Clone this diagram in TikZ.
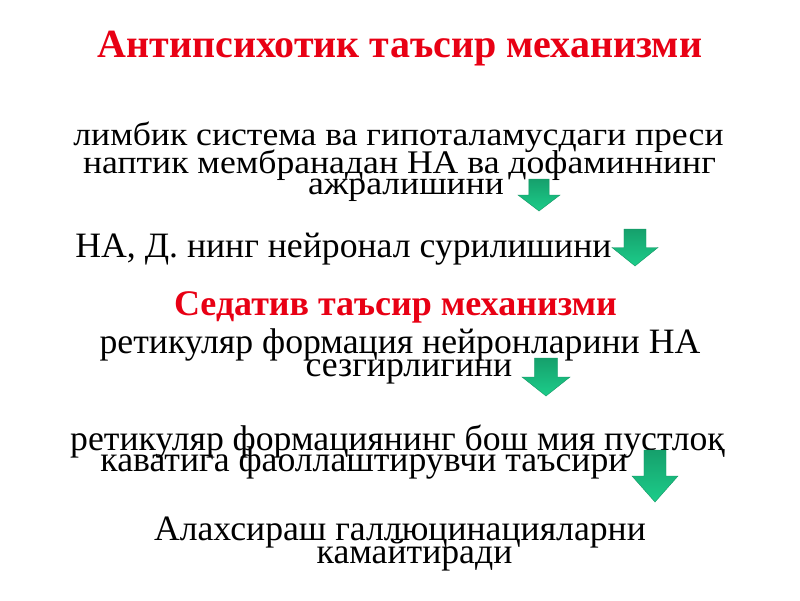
\documentclass[tikz,border=0pt]{standalone}
\usepackage{fontspec}
\setmainfont{Liberation Serif}
\newfontfamily\widefont{Liberation Serif}[FakeStretch=1.08]
\usetikzlibrary{positioning}

\definecolor{titlered}{RGB}{232,0,20}
\definecolor{arrowtop}{RGB}{22,160,108}
\definecolor{arrowbottom}{RGB}{28,205,138}
\definecolor{arrowedge}{RGB}{20,150,100}

\tikzset{
	heading/.style = {titlered, font = \bfseries\fontsize{40}{40}\selectfont, inner sep = 0, anchor = base},
	bodytext/.style = {font = \fontsize{35.7}{36}\selectfont, inner sep = 0, anchor = base},
	widetext/.style = {font = \widefont\fontsize{33}{33}\selectfont, inner sep = 0, anchor = base}
}

\begin{document}
\begin{tikzpicture}[x = 1pt, y = -1pt]

	\useasboundingbox (0, 0) rectangle (800, 600);

	% Headings

	\node [heading] (antititle) at (400, 57) {Антипсихотик таъсир механизми};
	\node [heading, font = \bfseries\fontsize{36}{36}\selectfont] (sedtitle) at (395.5, 315) {Седатив таъсир механизми};

	% Text lines

	\node [widetext] (limbicA) at (398.5, 145) {лимбик система ва гипоталамусдаги преси};
	\node [widetext] (limbicB) at (399.5, 173) {наптик мембранадан НА ва дофаминнинг};
	\node [widetext] (limbicC) at (406, 194) {ажралишини};

	\node [bodytext] (neuronal) at (343.5, 257) {НА, Д. нинг нейронал сурилишини};

	\node [bodytext] (reticularA) at (400, 353) {ретикуляр формация нейронларини НА};
	\node [bodytext] (reticularB) at (409, 376) {сезгирлигини};

	\node [bodytext] (cortexA) at (397.5, 450) {ретикуляр формациянинг бош мия пустлоқ};
	\node [bodytext] (cortexB) at (364, 471) {каватига фаоллаштирувчи таъсири};

	\node [bodytext] (halluA) at (400, 540) {Алахсираш галлюцинацияларни};
	\node [bodytext] (halluB) at (414.5, 563) {камайтиради};

	% Green arrows

	\begin{scope}[draw = arrowedge, line width = 0.4pt]

		\foreach \ax/\ay/\aw/\ah in {539/179/42/32, 635/229/46/37, 546/358/48/38, 655/450/46/52}
			\shade [top color = arrowtop, bottom color = arrowbottom, draw = arrowedge]
				(\ax - 0.24*\aw, \ay) -- (\ax + 0.24*\aw, \ay) -- (\ax + 0.24*\aw, \ay + 0.5*\ah)
				-- (\ax + 0.5*\aw, \ay + 0.5*\ah) -- (\ax, \ay + \ah) -- (\ax - 0.5*\aw, \ay + 0.5*\ah)
				-- (\ax - 0.24*\aw, \ay + 0.5*\ah) -- cycle;

	\end{scope}

\end{tikzpicture}
\end{document}
